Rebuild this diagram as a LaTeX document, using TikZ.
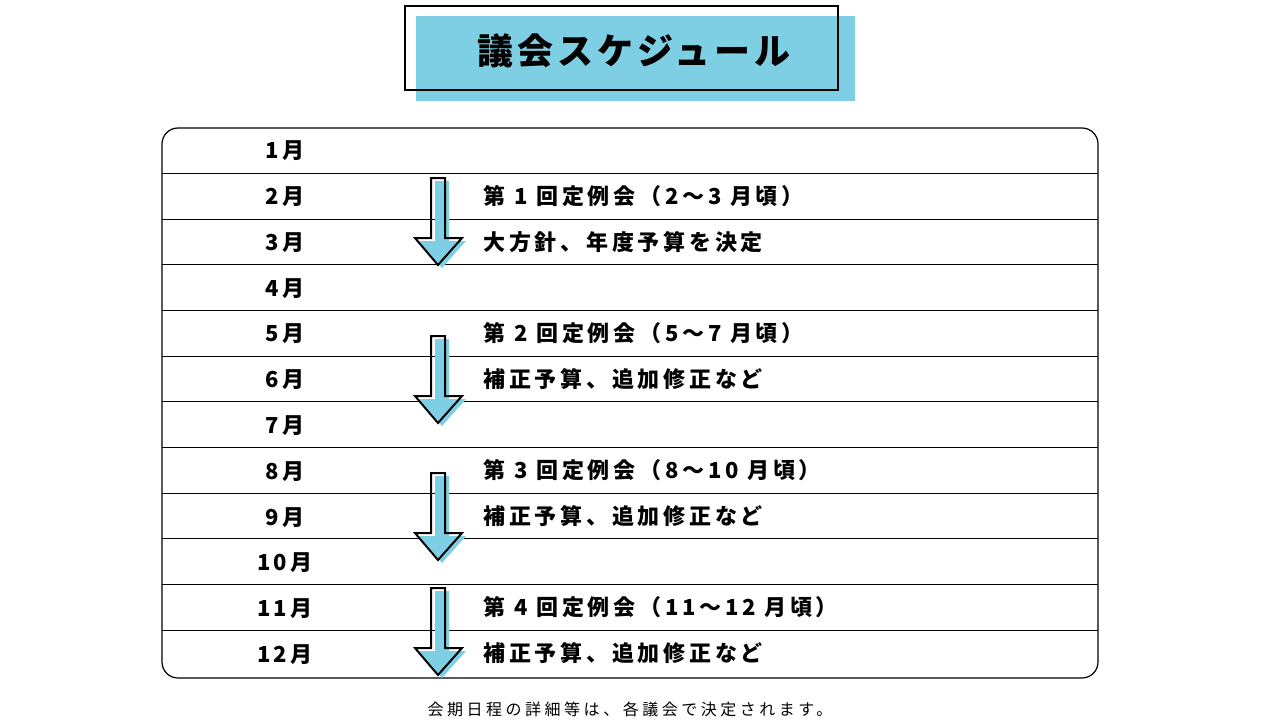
\documentclass[tikz,border=0pt]{standalone}
\usepackage{fontspec}
\setmainfont{Noto Sans CJK JP}
\newfontfamily\evf[LetterSpace=17]{Noto Sans CJK JP}
\newfontfamily\mof[LetterSpace=8]{Noto Sans CJK JP}
\newfontfamily\ttf[LetterSpace=11]{Noto Sans CJK JP}
\newfontfamily\ftf[LetterSpace=22]{Noto Sans CJK JP}
\definecolor{lb}{HTML}{7ECFE3}
\begin{document}
\begin{tikzpicture}[x=1pt,y=-1pt,
 mon/.style={font=\mof\bfseries\fontsize{22}{24}\selectfont},
 ev/.style={font=\evf\bfseries\fontsize{22}{24}\selectfont,anchor=west},
 arr/.style={line width=2pt}]
\useasboundingbox (0,0) rectangle (1280,720);
\fill[lb] (416,16) rectangle (855,101);
\draw[line width=2.5pt] (405,6) rectangle (838,90);
\node[font=\ttf\bfseries\fontsize{36}{40}\selectfont] (title) at (634,51) {議会スケジュール};
\draw[line width=1.2pt,rounded corners=16] (162,128) rectangle (1098,678);
\foreach \y in {173,219,264,310,356,401,447,493,538,584,630}
  \draw[line width=1pt] (162,\y) -- (1098,\y);
\foreach \m [count=\i] in {1,2,3,4,5,6,7,8,9,10,11,12}
  \node[mon] (m\i) at (285,{128+(\i-0.5)*45.8}) {\m\,月};
\newcommand{\myarrow}[2]{%
 \begin{scope}[shift={(0,#1)}]
 \fill[lb,shift={(4,3)}] (431,0) -- (445,0) -- (445,{#2-27}) -- (462,{#2-27}) -- (438,#2) -- (415,{#2-27}) -- (431,{#2-27}) -- cycle;
 \draw[arr,line join=miter] (431,0) -- (445,0) -- (445,{#2-27}) -- (462,{#2-27}) -- (438,#2) -- (415,{#2-27}) -- (431,{#2-27}) -- cycle;
 \end{scope}}
\myarrow{178}{87}
\myarrow{336}{87}
\myarrow{473}{87}
\myarrow{588}{87}
\node[ev] (e1) at (480,196) {第 1 回定例会（2〜3 月頃）};
\node[ev] (e2) at (480,242) {大方針、年度予算を決定};
\node[ev] (e3) at (480,333) {第 2 回定例会（5〜7 月頃）};
\node[ev] (e4) at (480,379) {補正予算、追加修正など};
\node[ev] (e5) at (480,470) {第 3 回定例会（8〜10 月頃）};
\node[ev] (e6) at (480,516) {補正予算、追加修正など};
\node[ev] (e7) at (480,607) {第 4 回定例会（11〜12 月頃）};
\node[ev] (e8) at (480,653) {補正予算、追加修正など};
\node[font=\ftf\fontsize{16}{18}\selectfont] (foot) at (630,709) {会期日程の詳細等は、各議会で決定されます。};
\end{tikzpicture}
\end{document}
